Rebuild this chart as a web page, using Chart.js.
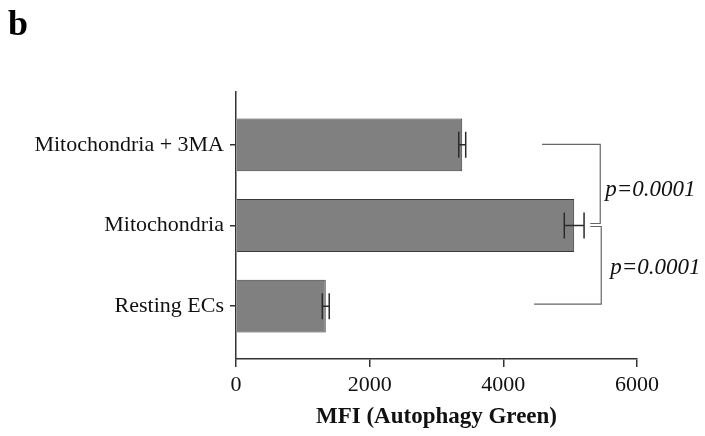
<!DOCTYPE html>
<html>
<head>
<meta charset="utf-8">
<script src="https://cdn.jsdelivr.net/npm/chart.js@4.4.1/dist/chart.umd.min.js"></script>
<style>
  html, body { margin: 0; padding: 0; background: #fff; }
  #wrap { width: 705px; height: 436px; }
</style>
</head>
<body>
<div id="wrap"><canvas id="mfiChart" width="705" height="436"></canvas></div>
<script>
// categories listed bottom -> top (y value = index)
const categories = ['Resting ECs', 'Mitochondria', 'Mitochondria + 3MA'];
const mfiMeans = [1343, 5060, 3385];
const mfiErrors = [52, 148, 52];
const xTicks = [0, 2000, 4000, 6000];

// significance brackets: [upper category, lower category], label, and x (data units) of arms
const bracketPairs = [[2, 1], [1, 0]];
const bracketLabels = ['p=0.0001', 'p=0.0001'];
const bracketStartUpper = [4580, 5300];
const bracketStartLower = [5300, 4460];
const bracketSpine = [5450, 5465];

const serif = '"Liberation Serif", "Times New Roman", serif';

// error bars + brackets + panel letter
const extrasPlugin = {
    id: 'extras',
    afterDatasetsDraw(chart) {
        const ctx = chart.ctx;
        const xs = chart.scales.x;
        const ys = chart.scales.y;
        const meta = chart.getDatasetMeta(0);

        ctx.save();
        ctx.strokeStyle = '#2b2b2b';
        ctx.lineWidth = 1.5;
        meta.data.forEach((bar, i) => {
            const lo = xs.getPixelForValue(mfiMeans[i] - mfiErrors[i]);
            const hi = xs.getPixelForValue(mfiMeans[i] + mfiErrors[i]);
            const cy = bar.y;
            const h = 13;
            ctx.beginPath();
            ctx.moveTo(lo, cy); ctx.lineTo(hi, cy);
            ctx.moveTo(lo, cy - h); ctx.lineTo(lo, cy + h);
            ctx.moveTo(hi, cy - h); ctx.lineTo(hi, cy + h);
            ctx.stroke();
        });

        ctx.strokeStyle = '#666';
        ctx.lineWidth = 1.2;
        ctx.fillStyle = '#111';
        ctx.font = 'italic 23px ' + serif;
        ctx.textBaseline = 'middle';
        ctx.textAlign = 'left';
        bracketPairs.forEach((pair, k) => {
            const yTop = ys.getPixelForValue(pair[0]) + (k === 0 ? -0.5 : 1);
            const yBot = ys.getPixelForValue(pair[1]) - 2;
            const spine = xs.getPixelForValue(bracketSpine[k]);
            ctx.beginPath();
            ctx.moveTo(xs.getPixelForValue(bracketStartUpper[k]), yTop);
            ctx.lineTo(spine, yTop);
            ctx.lineTo(spine, yBot);
            ctx.lineTo(xs.getPixelForValue(bracketStartLower[k]), yBot);
            ctx.stroke();
            ctx.fillText(bracketLabels[k], spine + (k === 0 ? 5 : 9), (yTop + yBot) / 2 + (k === 0 ? 6 : 3));
        });

        ctx.font = 'bold 36px ' + serif;
        ctx.textBaseline = 'alphabetic';
        ctx.fillStyle = '#000';
        ctx.fillText('b', 8, 35);
        ctx.restore();
    }
};

const ctx = document.getElementById('mfiChart').getContext('2d');
new Chart(ctx, {
    type: 'bar',
    data: {
        datasets: [{
            label: 'MFI',
            data: mfiMeans.map((v, i) => ({ x: v, y: i })),
            backgroundColor: '#808080',
            borderColor: '#3a3a3a',
            borderWidth: 1,
            barPercentage: 0.655,
            categoryPercentage: 1
        }]
    },
    options: {
        indexAxis: 'y',
        responsive: false,
        animation: false,
        layout: { padding: { top: 92, right: 68, left: 0, bottom: 0 } },
        plugins: {
            legend: { display: false },
            tooltip: { enabled: false }
        },
        scales: {
            x: {
                type: 'linear',
                min: 0,
                max: 6000,
                afterFit: (scale) => { scale.height = 77; },
                afterBuildTicks: (scale) => { scale.ticks = xTicks.map(v => ({ value: v })); },
                grid: { display: true, drawOnChartArea: false, drawTicks: true, tickLength: 8, color: '#333', lineWidth: 1.5 },
                border: { display: true, color: '#333', width: 1.5 },
                ticks: {
                    color: '#111',
                    padding: 5,
                    font: { family: serif, size: 22 },
                    maxRotation: 0,
                    callback: (value) => String(value)
                },
                title: {
                    display: true,
                    text: 'MFI (Autophagy Green)',
                    color: '#111',
                    font: { family: serif, size: 23, weight: 'bold' },
                    padding: { top: 0, bottom: 5 }
                }
            },
            y: {
                type: 'linear',
                offset: false,
                min: -0.655,
                max: 2.655,
                afterFit: (scale) => { scale.width = 236; },
                afterBuildTicks: (scale) => { scale.ticks = categories.map((c, i) => ({ value: i })); },
                grid: { display: true, offset: false, drawOnChartArea: false, drawTicks: true, tickLength: 6, color: '#333', lineWidth: 1.5 },
                border: { display: true, color: '#333', width: 1.5 },
                ticks: {
                    color: '#111',
                    padding: 6,
                    font: { family: serif, size: 22 },
                    callback: (value) => categories[value]
                }
            }
        }
    },
    plugins: [extrasPlugin]
});
</script>
</body>
</html>
